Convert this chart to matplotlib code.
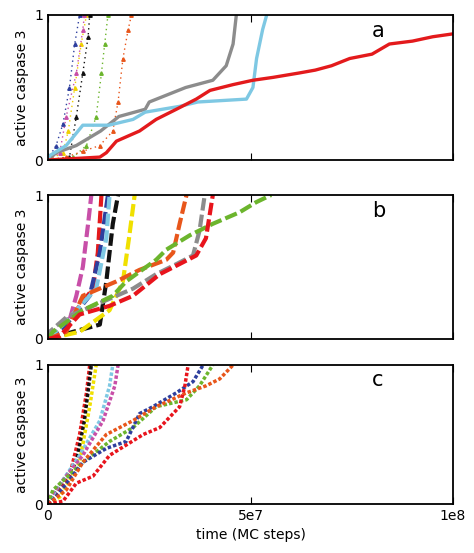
import matplotlib
matplotlib.use("Agg")
import matplotlib.pyplot as plt
import numpy as np

# x values in units of 1e7 MC steps
panel_a = {
 "#2e3f9e": ([0,0.05,0.2,0.37,0.53,0.66,0.78],[0,0.03,0.1,0.25,0.5,0.8,1.0]),
 "#f0d000": ([0,0.37,0.5,0.66,0.82,0.95],[0,0.05,0.2,0.5,0.8,1.0]),
 "#c84fa8": ([0,0.29,0.45,0.7,0.86,0.9],[0,0.05,0.3,0.6,0.9,1.0]),
 "#111111": ([0,0.53,0.7,0.86,0.99,1.03],[0,0.02,0.3,0.6,0.85,1.0]),
 "#6cb52d": ([0,0.62,0.95,1.19,1.32,1.4,1.48],[0,0.02,0.1,0.3,0.6,0.8,1.0]),
 "#e8561b": ([0,0.45,0.86,1.28,1.6,1.73,1.85,1.98,2.06],[0,0.02,0.06,0.1,0.2,0.4,0.7,0.9,1.0]),
 "#8c8c8c": ([0,0.2,0.7,1.3,1.75,2.4,2.5,3.4,4.07,4.4,4.57,4.65],[0,0.05,0.1,0.2,0.3,0.35,0.4,0.5,0.55,0.65,0.8,1.0]),
 "#7ec8e3": ([0,0.04,0.45,0.86,1.5,2.1,2.4,3.25,3.7,4.9,5.06,5.15,5.3,5.4],[0,0.03,0.1,0.24,0.24,0.28,0.33,0.37,0.4,0.42,0.5,0.7,0.9,1.0]),
 "#e31a1c": ([0,1.28,1.44,1.69,2.26,2.67,3.17,3.66,4.0,4.57,5.06,5.56,6.2,6.6,7.0,7.45,8.0,8.43,9.0,9.5,10],[0,0.02,0.05,0.13,0.2,0.28,0.35,0.42,0.48,0.52,0.55,0.57,0.6,0.62,0.65,0.7,0.73,0.8,0.82,0.85,0.87]),
}
panel_b = {
 "#c84fa8": ([0,0.45,0.7,0.86,0.99,1.07],[0,0.05,0.3,0.5,0.8,1.0]),
 "#e31a1c": ([0,0.2,0.7,1.11,1.23,1.32],[0,0.05,0.2,0.35,0.6,1.0]),
 "#2e3f9e": ([0,0.45,1.03,1.28,1.48],[0,0.1,0.3,0.6,1.0]),
 "#7ec8e3": ([0,0.37,1.19,1.44,1.52],[0,0.1,0.35,0.7,1.0]),
 "#111111": ([0,0.62,1.28,1.44,1.6,1.73],[0,0.05,0.1,0.4,0.8,1.0]),
 "#f0e000": ([0,0.78,1.52,1.85,2.0,2.14],[0,0.05,0.2,0.4,0.7,1.0]),
 "#e8561b": ([0,0.45,0.86,1.69,2.26,2.92,3.09,3.25,3.42],[0,0.05,0.3,0.4,0.48,0.55,0.6,0.8,1.0]),
 "#8c8c8c": ([0,0.04,0.45,1.28,2.1,2.67,3.17,3.58,3.74,3.87],[0,0.05,0.15,0.25,0.35,0.45,0.52,0.58,0.75,1.0]),
 "#6cb52d": ([0,0.12,0.86,1.6,1.93,2.67,2.92,3.5,4.07,4.73,5.14,5.51],[0,0.05,0.2,0.3,0.4,0.55,0.62,0.72,0.8,0.88,0.95,1.0]),
 "#e8141c": ([0,0.29,0.78,1.52,2.1,2.76,3.66,3.9,4.07],[0,0.02,0.17,0.23,0.3,0.45,0.58,0.7,1.0]),
}
panel_c = {
 "#e31a1c": ([0,0.04,0.53,0.78,0.95,1.03],[0,0.02,0.2,0.5,0.8,1.0]),
 "#111111": ([0,0.2,0.7,0.9,1.07],[0,0.1,0.3,0.6,1.0]),
 "#f0e000": ([0,0.29,0.78,1.03,1.19],[0,0.05,0.3,0.7,1.0]),
 "#7ec8e3": ([0,0.2,0.78,1.28,1.52,1.6],[0,0.1,0.35,0.6,0.85,1.0]),
 "#c84fa8": ([0,0.04,0.86,1.36,1.65,1.73],[0,0.05,0.35,0.6,0.85,1.0]),
 "#6cb52d": ([0,0.12,0.86,1.52,2.1,2.67,3.42,3.74,4.07],[0,0.1,0.3,0.45,0.55,0.7,0.75,0.85,1.0]),
 "#2e3f9e": ([0,0.2,0.86,1.44,1.93,2.26,2.59,3.17,3.58,3.83],[0,0.05,0.3,0.4,0.45,0.65,0.7,0.8,0.88,1.0]),
 "#e8561b": ([0,0.45,0.86,1.44,2.1,2.67,3.42,3.9,4.24,4.57],[0,0.1,0.3,0.5,0.6,0.7,0.8,0.85,0.9,1.0]),
 "#e8141c": ([0,0.37,0.7,1.11,1.52,2.35,2.76,3.25,3.38,3.46],[0,0.02,0.15,0.2,0.35,0.5,0.55,0.7,0.85,1.0]),
}
labels = ["a", "b", "c"]
xticks = [0, 5e7, 1e8]
xticklabels = ["0", "5e7", "1e8"]

fig = plt.figure(figsize=(4.74, 5.53), dpi=100)
boxes = [(48, 15, 160), (48, 195, 339), (48, 365, 504)]
W, H = 474, 553
for (l, t, b), lab, data in zip(boxes, labels, [panel_a, panel_b, panel_c]):
    ax = fig.add_axes([l/W, 1-b/H, (453-l)/W, (b-t)/H])
    for col, (xs, ys) in data.items():
        xs = np.array(xs)*1e7
        if lab == "a":
            if col in ("#e31a1c", "#7ec8e3", "#8c8c8c"):
                ax.plot(xs, ys, color=col, lw=2.4, solid_capstyle="butt")
            else:
                ax.plot(xs, ys, color=col, lw=1.0, ls=(0, (1, 2.5)),
                        marker="^", ms=2.5)
        elif lab == "b":
            ax.plot(xs, ys, color=col, lw=3, ls=(0, (3, 1)))
        else:
            ax.plot(xs, ys, color=col, lw=2.5, ls=(0, (1, 0.6)))
    ax.set_xlim(0, 1e8)
    ax.set_ylim(0, 1)
    ax.set_yticks([0, 1])
    ax.set_yticklabels(["0", "1"])
    ax.set_xticks(xticks)
    ax.tick_params(direction="in", length=5, top=True, labelsize=10)
    ax.tick_params(axis="y", length=0)
    if lab == "c":
        ax.set_xticklabels(xticklabels)
        ax.set_xlabel("time (MC steps)", fontsize=10)
    else:
        ax.set_xticklabels([])
    ax.set_ylabel("active caspase 3", fontsize=10)
    ax.text(0.8, 0.85, lab, transform=ax.transAxes, fontsize=15)
    for s in ax.spines.values():
        s.set_linewidth(1.3)

fig.savefig("out.png", dpi=100)
